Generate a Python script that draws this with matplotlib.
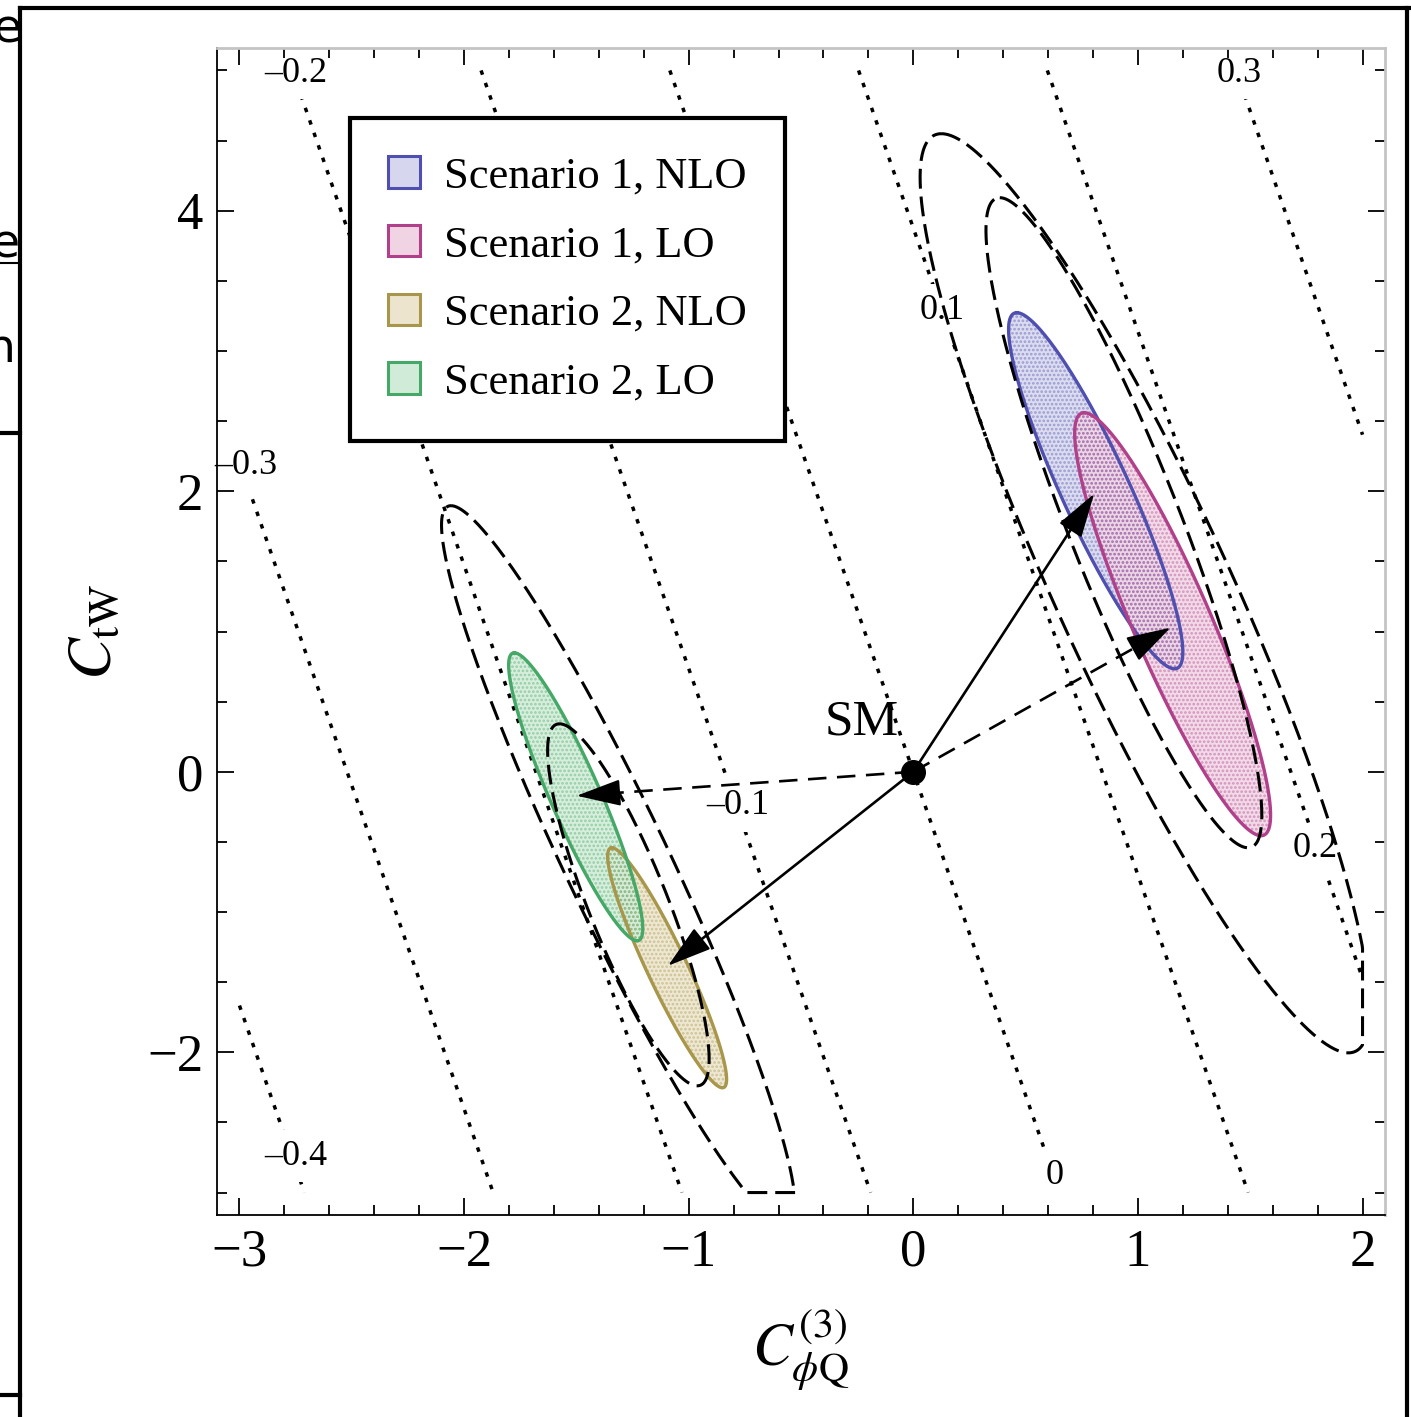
import numpy as np
import matplotlib.pyplot as plt
from matplotlib.patches import Patch
from matplotlib.lines import Line2D
from matplotlib.ticker import MultipleLocator
from matplotlib.transforms import Bbox, TransformedBbox

plt.rcParams['font.family'] = ['Liberation Serif', 'DejaVu Serif']
plt.rcParams['mathtext.fontset'] = 'stix'
plt.rcParams['hatch.linewidth'] = 1.3

# dotted contours of a plane: f = plane_cx * C_phiQ + plane_cy * C_tW
plane_cx = 0.119
plane_cy = 0.0258
contour_levels = [-0.4, -0.3, -0.2, -0.1, 0.0, 0.1, 0.2, 0.3]
contour_label_x = [-2.75, -2.97, -2.75, -0.78, 0.63, 0.13, 1.79, 1.45]
contour_label_y = [-2.74, 2.18, 4.98, -0.24, -2.88, 3.29, -0.55, 4.98]

# filled regions: top point, bottom point, half width through the centre
fill_names = ['Scenario 1, NLO', 'Scenario 1, LO', 'Scenario 2, NLO', 'Scenario 2, LO']
fill_top_x = [0.461, 0.761, -1.342, -1.776]
fill_top_y = [3.273, 2.560, -0.542, 0.848]
fill_bot_x = [1.163, 1.548, -0.850, -1.230]
fill_bot_y = [0.734, -0.456, -2.253, -1.205]
fill_halfw = [0.165, 0.188, 0.098, 0.121]
fill_edge = ['#4f4fb0', '#b0408a', '#a8964a', '#45a866']
fill_face = ['#d6d6ee', '#f0d4e4', '#ece4cc', '#d0ecd8']

# dashed regions
dash_top_x = [0.125, 0.385, -2.058, -1.575]
dash_top_y = [4.549, 4.093, 1.897, 0.342]
dash_bot_x = [1.937, 1.490, -0.568, -0.962]
dash_bot_y = [-2.004, -0.542, -3.237, -2.239]
dash_halfw = [0.425, 0.268, 0.255, 0.188]

# shifts from the SM point
arrow_x = [0.805, 1.145, -1.499, -1.092]
arrow_y = [1.982, 1.027, -0.171, -1.383]
arrow_dashed = [False, True, True, False]

# plotted region (frame adds 2% padding)
xmin, xmax, ymin, ymax = -3, 2, -3, 5


def ellipse_xy(top, bot, halfw, n=600):
    t = np.linspace(0, 2 * np.pi, n)
    cx, cy = (top[0] + bot[0]) / 2, (top[1] + bot[1]) / 2
    ux, uy = top[0] - cx, top[1] - cy
    x = cx + ux * np.cos(t) + halfw * np.sin(t)
    y = cy + uy * np.cos(t)
    return np.clip(x, xmin, xmax), np.clip(y, ymin, ymax)


fig = plt.figure(figsize=(14.11, 14.17), dpi=100)
ax = fig.add_axes([217 / 1411, 202 / 1417, 1168 / 1411, 1167 / 1417])
ax.set_xlim(xmin - 0.1, xmax + 0.1)
ax.set_ylim(ymin - 0.16, ymax + 0.16)

# contours
gx, gy = np.meshgrid(np.linspace(xmin, xmax, 200), np.linspace(ymin, ymax, 200))
cs = ax.contour(gx, gy, plane_cx * gx + plane_cy * gy, levels=contour_levels,
                colors='k', linewidths=2.5, zorder=1)
cs.set_linestyle((0, (1.3, 2.5)))
for lev, lx, ly in zip(contour_levels, contour_label_x, contour_label_y):
    ax.text(lx, ly, f'{lev:g}'.replace('-', '–'), fontsize=26, ha='center', va='center',
            zorder=1.5, bbox=dict(facecolor='white', edgecolor='none', pad=7))

# filled regions
for i in range(4):
    x, y = ellipse_xy((fill_top_x[i], fill_top_y[i]), (fill_bot_x[i], fill_bot_y[i]), fill_halfw[i])
    ax.fill(x, y, facecolor=fill_face[i], edgecolor='none', alpha=0.85, zorder=2)
    ax.fill(x, y, facecolor='none', edgecolor=fill_edge[i] + '70', hatch='....', lw=0, zorder=2.1)
for i in range(4):
    x, y = ellipse_xy((fill_top_x[i], fill_top_y[i]), (fill_bot_x[i], fill_bot_y[i]), fill_halfw[i])
    ax.plot(x, y, color=fill_edge[i], lw=2.4, zorder=2.5)

# dashed regions
for i in range(4):
    x, y = ellipse_xy((dash_top_x[i], dash_top_y[i]), (dash_bot_x[i], dash_bot_y[i]), dash_halfw[i])
    ax.plot(x, y, color='k', lw=2.2, dashes=(6.5, 2.6), zorder=3)

# arrows from SM
for tx, ty, dsh in zip(arrow_x, arrow_y, arrow_dashed):
    ax.plot([0, tx * 0.95], [0, ty * 0.95], color='k', lw=1.9,
            dashes=(7, 4) if dsh else (None, None), zorder=4)
    ax.annotate('', xy=(tx, ty), xytext=(tx * 0.9, ty * 0.9),
                arrowprops=dict(arrowstyle='-|>,head_length=1.4,head_width=0.42',
                                mutation_scale=20, color='k', lw=1.5,
                                shrinkA=0, shrinkB=0), zorder=4)
ax.plot(0, 0, 'o', color='k', ms=17, zorder=5)
ax.text(-0.23, 0.35, 'SM', fontsize=37, ha='center', va='center', zorder=5)

# frame
ax.xaxis.set_major_locator(MultipleLocator(1))
ax.xaxis.set_minor_locator(MultipleLocator(0.2))
ax.yaxis.set_major_locator(MultipleLocator(2))
ax.yaxis.set_minor_locator(MultipleLocator(0.5))
ax.tick_params(which='both', direction='in', top=True, right=True, width=1.3)
ax.tick_params(which='major', length=12, labelsize=38)
ax.tick_params(which='minor', length=7)
ax.tick_params(axis='x', pad=10)
ax.tick_params(axis='y', pad=10)
for s in ['left', 'bottom']:
    ax.spines[s].set_linewidth(1.3)
for s in ['top', 'right']:
    ax.spines[s].set_color('#c4c4c4')
    ax.spines[s].set_linewidth(2)

ax.set_xlabel(r'$C_{\phi\mathrm{Q}}^{(3)}$', fontsize=43)
ax.xaxis.set_label_coords(0.5, -0.078)
ax.set_ylabel(r'$C_{\mathrm{tW}}$', fontsize=45)
ax.yaxis.set_label_coords(-0.079, 0.5)

handles = [Patch(facecolor=f, edgecolor=e, lw=2.2) for f, e in zip(fill_face, fill_edge)]
leg = ax.legend(handles, fill_names, loc='upper left', bbox_to_anchor=(0.114, 0.940),
                fontsize=32, frameon=True, fancybox=False, edgecolor='k', framealpha=1,
                handlelength=0.71, handleheight=0.71, handletextpad=0.55,
                labelspacing=0.64, borderpad=0.86, borderaxespad=0)
leg.get_frame().set_linewidth(3)
leg.set_zorder(10)

# surrounding page frame and clipped fragments
fig.add_artist(Line2D([20 / 1411] * 2, [0, 1 - 8 / 1417], transform=fig.transFigure, color='k', lw=3))
fig.add_artist(Line2D([20 / 1411, 1], [1 - 8 / 1417] * 2, transform=fig.transFigure, color='k', lw=3))
fig.add_artist(Line2D([1407 / 1411] * 2, [0, 1 - 8 / 1417], transform=fig.transFigure, color='k', lw=3))
fig.add_artist(Line2D([0, 20 / 1411], [1 - 433 / 1417] * 2, transform=fig.transFigure, color='k', lw=3))
fig.add_artist(Line2D([0, 20 / 1411], [1 - 1395 / 1417] * 2, transform=fig.transFigure, color='k', lw=3))
fig.add_artist(Line2D([0, 20 / 1411], [1 - 263 / 1417] * 2, transform=fig.transFigure, color='k', lw=1.5))
clip = TransformedBbox(Bbox([[0, 0], [18 / 1411, 1]]), fig.transFigure)
for s, px, py in [('e', -8, 30), ('es', -10, 245), ('n.', -14, 350)]:
    t = fig.text(px / 1411, 1 - py / 1417, s, fontsize=34, family='DejaVu Sans',
                 ha='left', va='center')
    t.set_clip_box(clip)
    t.set_clip_on(True)

fig.savefig('out.png', dpi=100)
